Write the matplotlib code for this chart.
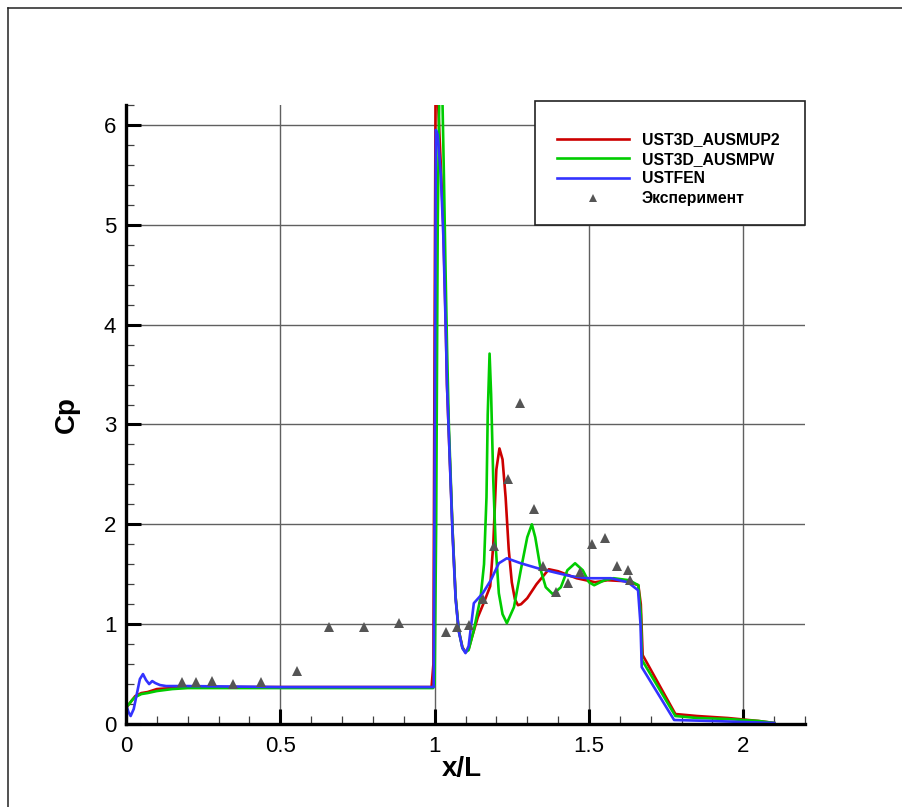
import matplotlib
matplotlib.use("Agg")
import matplotlib.pyplot as plt
from matplotlib.lines import Line2D
from matplotlib.patches import Rectangle
from matplotlib.ticker import MultipleLocator

plt.rcParams['font.family'] = ['Liberation Sans', 'DejaVu Sans']

# ---- data ----
red_x = [0.0, 0.01, 0.02, 0.03, 0.05, 0.07, 0.10, 0.15, 0.20, 0.30, 0.50, 0.70, 0.90, 0.99,
         0.996, 1.0, 1.003, 1.01, 1.02, 1.028, 1.036, 1.04, 1.046, 1.058, 1.068, 1.078, 1.09,
         1.10, 1.11, 1.12, 1.14, 1.16, 1.18, 1.19, 1.20, 1.21, 1.22, 1.23, 1.24, 1.25, 1.26,
         1.27, 1.28, 1.30, 1.33, 1.37, 1.40, 1.46, 1.52, 1.56, 1.62, 1.66, 1.668, 1.674,
         1.78, 1.85, 1.95, 2.05, 2.10]
red_y = [0.16, 0.20, 0.24, 0.28, 0.31, 0.32, 0.35, 0.36, 0.37, 0.37, 0.37, 0.37, 0.37, 0.37,
         0.6, 4.0, 6.3, 6.3, 5.6, 5.0, 4.0, 3.4, 2.9, 1.94, 1.27, 0.94, 0.77,
         0.72, 0.75, 0.86, 1.07, 1.22, 1.38, 1.80, 2.55, 2.76, 2.65, 2.27, 1.75, 1.42, 1.25,
         1.19, 1.20, 1.26, 1.40, 1.55, 1.53, 1.46, 1.42, 1.44, 1.43, 1.39, 1.20, 0.69,
         0.10, 0.08, 0.06, 0.03, 0.01]

green_x = [0.0, 0.01, 0.02, 0.03, 0.05, 0.07, 0.10, 0.15, 0.20, 0.30, 0.50, 0.70, 0.90, 0.995,
           1.0, 1.005, 1.01, 1.015, 1.025, 1.03, 1.035, 1.04, 1.046, 1.058, 1.068, 1.078, 1.09,
           1.10, 1.11, 1.127, 1.149, 1.16, 1.168, 1.172, 1.178, 1.183, 1.19, 1.198, 1.208, 1.22,
           1.234, 1.257, 1.279, 1.30, 1.315, 1.326, 1.344, 1.36, 1.383, 1.409, 1.43, 1.455,
           1.48, 1.50, 1.517, 1.55, 1.58, 1.63, 1.66, 1.668, 1.672, 1.78, 1.85, 1.95, 2.05, 2.10]
green_y = [0.17, 0.20, 0.24, 0.27, 0.30, 0.31, 0.33, 0.35, 0.36, 0.36, 0.36, 0.36, 0.36, 0.36,
           0.40, 2.0, 5.0, 6.3, 6.3, 5.5, 4.6, 3.8, 3.0, 1.95, 1.27, 0.94, 0.76,
           0.72, 0.74, 0.94, 1.27, 1.60, 2.27, 3.10, 3.71, 3.30, 2.44, 1.77, 1.31, 1.10,
           1.01, 1.17, 1.54, 1.87, 2.00, 1.87, 1.54, 1.37, 1.30, 1.37, 1.54, 1.61,
           1.54, 1.42, 1.39, 1.44, 1.46, 1.44, 1.39, 1.10, 0.64, 0.08, 0.06, 0.05, 0.03, 0.01]

blue_x = [0.0, 0.008, 0.015, 0.025, 0.035, 0.045, 0.055, 0.065, 0.075, 0.085, 0.095, 0.11,
          0.13, 0.20, 0.50, 0.90, 0.997, 1.0, 1.004, 1.01, 1.02, 1.028, 1.036, 1.04, 1.046,
          1.058, 1.068, 1.078, 1.09, 1.10, 1.11, 1.127, 1.156, 1.182, 1.208, 1.234, 1.279,
          1.334, 1.387, 1.442, 1.497, 1.571, 1.626, 1.659, 1.667, 1.671, 1.776, 1.90, 2.0, 2.10]
blue_y = [0.20, 0.12, 0.08, 0.15, 0.30, 0.45, 0.50, 0.44, 0.40, 0.43, 0.41, 0.39,
          0.38, 0.38, 0.37, 0.37, 0.37, 2.5, 5.95, 5.9, 5.5, 4.9, 3.95, 3.4, 2.9,
          1.9, 1.25, 0.93, 0.76, 0.71, 0.78, 1.21, 1.31, 1.44, 1.61, 1.66, 1.61,
          1.56, 1.52, 1.48, 1.46, 1.46, 1.42, 1.34, 1.0, 0.57, 0.04, 0.03, 0.02, 0.01]

exp_x = [0.181, 0.227, 0.28, 0.346, 0.437, 0.555, 0.659, 0.772, 0.884, 1.036, 1.071, 1.111,
         1.157, 1.193, 1.237, 1.276, 1.321, 1.35, 1.393, 1.433, 1.472, 1.509, 1.553, 1.591,
         1.627, 1.634]
exp_y = [0.42, 0.42, 0.43, 0.40, 0.42, 0.53, 0.97, 0.97, 1.01, 0.92, 0.97, 0.99,
         1.25, 1.78, 2.45, 3.22, 2.15, 1.58, 1.32, 1.41, 1.52, 1.80, 1.86, 1.58,
         1.54, 1.44]

labels = ['UST3D_AUSMUP2', 'UST3D_AUSMPW', 'USTFEN', 'Эксперимент']

# ---- figure ----
W, H = 902, 807
fig = plt.figure(figsize=(W / 100, H / 100), dpi=100)
ax = fig.add_axes([126/W, 83/H, 679/W, 619/H])

lw = 1.9
ax.plot(red_x, red_y, color='#cc0000', lw=lw, label=labels[0], zorder=3)
ax.plot(green_x, green_y, color='#00cc00', lw=lw, label=labels[1], zorder=3)
ax.plot(blue_x, blue_y, color='#3333ff', lw=lw, label=labels[2], zorder=4)
ax.plot(exp_x, exp_y, linestyle='none', marker='^', markersize=7, color='#555555',
        markeredgewidth=0, label=labels[3], zorder=5)

ax.set_xlim(0, 2.2)
ax.set_ylim(0, 6.2)

ax.xaxis.set_minor_locator(MultipleLocator(0.1))
ax.yaxis.set_minor_locator(MultipleLocator(0.2))
ax.set_xticks([0, 0.5, 1, 1.5, 2])
ax.set_xticklabels(['0', '0.5', '1', '1.5', '2'])
ax.set_yticks([0, 1, 2, 3, 4, 5, 6])
ax.set_yticklabels(['0', '1', '2', '3', '4', '5', '6'])

ax.grid(True, which='major', color='#606060', lw=1.0, zorder=1)
ax.set_axisbelow(True)

for s in ['top', 'right']:
    ax.spines[s].set_visible(False)
for s in ['left', 'bottom']:
    ax.spines[s].set_linewidth(2.4)
    ax.spines[s].set_color('black')
    ax.spines[s].set_zorder(6)

ax.tick_params(which='major', direction='in', length=11, width=2.2, color='black',
               labelsize=16)
ax.tick_params(which='minor', direction='in', length=6, width=0.9, color='#404040')
ax.tick_params(axis='x', which='major', pad=9)
ax.tick_params(axis='y', which='major', pad=7)

ax.set_xlabel('x/L', fontsize=20, fontweight='bold')
ax.set_ylabel('Cp', fontsize=20, fontweight='bold')
ax.xaxis.set_label_coords(0.495, -0.052)
ax.yaxis.set_label_coords(-0.068, 0.5)

# legend: box drawn separately, entries placed inside
box = Rectangle((535/W, 1 - 225/H), 270/W, 124/H, transform=fig.transFigure,
                facecolor='white', edgecolor='#222222', lw=1.2, zorder=7)
fig.add_artist(box)
leg = fig.legend(*ax.get_legend_handles_labels(), loc='upper left',
                 bbox_to_anchor=(557/W, 1 - 132/H), bbox_transform=fig.transFigure,
                 borderaxespad=0, borderpad=0, frameon=False, handlelength=4.6,
                 handletextpad=0.8, labelspacing=0.3,
                 prop={'size': 11.3, 'weight': 'bold'})
leg.set_zorder(8)
for h in leg.legend_handles:
    if h.get_marker() == '^':
        h.set_markersize(6)

# outer frame (left and top edges visible)
fig.add_artist(Line2D([8/W, 8/W], [0, 1 - 8/H], transform=fig.transFigure,
                      color='#222222', lw=1.1))
fig.add_artist(Line2D([8/W, 1], [1 - 8/H, 1 - 8/H], transform=fig.transFigure,
                      color='#222222', lw=1.1))

fig.savefig('out.png', dpi=100)
